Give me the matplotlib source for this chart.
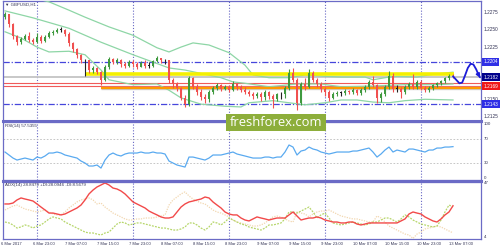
import matplotlib
matplotlib.use("Agg")
import matplotlib.pyplot as plt
import matplotlib.transforms as mtransforms
from matplotlib.lines import Line2D
from matplotlib.patches import Rectangle

# ---------------- data ----------------
symbol_label = "\u25BC GBPUSD,H1"
rsi_label = "RSI(14) 57.5355"
adx_label = "ADX(14) 28.8479 +DI:28.0946 -DI:8.5679"

time_labels = ["6 Mar 2017", "6 Mar 23:00", "7 Mar 07:00", "7 Mar 15:00", "7 Mar 23:00",
               "8 Mar 07:00", "8 Mar 15:00", "8 Mar 23:00", "9 Mar 07:00", "9 Mar 15:00",
               "9 Mar 23:00", "10 Mar 07:00", "10 Mar 15:00", "10 Mar 23:00", "13 Mar 07:00"]
time_label_bars = [0, 8, 16, 24, 32, 40, 48, 56, 64, 72, 80, 88, 96, 104, 112]
day_grid_bars = [8, 32, 56, 80, 104]

first_open = 1.2268
closes = [1.2272, 1.2258, 1.2241, 1.2232, 1.2237, 1.2241, 1.2235, 1.2233, 1.2240, 1.2234,
          1.2240, 1.2245, 1.2247, 1.2250, 1.2250, 1.2244, 1.2231, 1.2222, 1.2213, 1.2206,
          1.2206, 1.2192, 1.2195, 1.2189, 1.2178, 1.2196, 1.2208, 1.2203, 1.2207, 1.2201,
          1.2198, 1.2204, 1.2200, 1.2197, 1.2202, 1.2198, 1.2198, 1.2205, 1.2209, 1.2206,
          1.2206, 1.2178, 1.2172, 1.2166, 1.2152, 1.2143, 1.2180, 1.2168, 1.2160, 1.2153,
          1.2150, 1.2160, 1.2166, 1.2170, 1.2165, 1.2168, 1.2164, 1.2172, 1.2167, 1.2164,
          1.2160, 1.2157, 1.2154, 1.2158, 1.2153, 1.2160, 1.2154, 1.2150, 1.2157, 1.2157,
          1.2166, 1.2188, 1.2178, 1.2145, 1.2172, 1.2168, 1.2188, 1.2178, 1.2172, 1.2165,
          1.2160, 1.2152, 1.2157, 1.2159, 1.2159, 1.2162, 1.2160, 1.2163, 1.2159, 1.2163,
          1.2168, 1.2175, 1.2170, 1.2152, 1.2157, 1.2168, 1.2183, 1.2165, 1.2165, 1.2160,
          1.2168, 1.2172, 1.2168, 1.2175, 1.2166, 1.2163, 1.2166, 1.2170, 1.2173, 1.2176,
          1.2180, 1.2184, 1.2183]
highs = [1.2276, 1.2273, 1.2259, 1.2243, 1.2239, 1.2244, 1.2246, 1.2238, 1.2245, 1.2243,
         1.2242, 1.2248, 1.2250, 1.2253, 1.2254, 1.2251, 1.2246, 1.2233, 1.2224, 1.2215,
         1.2208, 1.2204, 1.2198, 1.2197, 1.2191, 1.2199, 1.2211, 1.2210, 1.2210, 1.2208,
         1.2204, 1.2207, 1.2206, 1.2203, 1.2205, 1.2206, 1.2203, 1.2207, 1.2212, 1.2210,
         1.2208, 1.2207, 1.2180, 1.2175, 1.2168, 1.2156, 1.2183, 1.2182, 1.2172, 1.2165,
         1.2158, 1.2163, 1.2169, 1.2173, 1.2172, 1.2171, 1.2170, 1.2176, 1.2174, 1.2170,
         1.2167, 1.2163, 1.2160, 1.2160, 1.2160, 1.2163, 1.2162, 1.2158, 1.2159, 1.2160,
         1.2169, 1.2193, 1.2195, 1.2181, 1.2175, 1.2181, 1.2193, 1.2190, 1.2181, 1.2175,
         1.2168, 1.2163, 1.2160, 1.2162, 1.2162, 1.2165, 1.2164, 1.2166, 1.2165, 1.2166,
         1.2170, 1.2178, 1.2183, 1.2172, 1.2160, 1.2171, 1.2190, 1.2188, 1.2170, 1.2168,
         1.2171, 1.2175, 1.2186, 1.2178, 1.2177, 1.2169, 1.2169, 1.2172, 1.2175, 1.2178,
         1.2182, 1.2187, 1.2186]
lows = [1.2266, 1.2254, 1.2236, 1.2228, 1.2229, 1.2235, 1.2232, 1.2230, 1.2231, 1.2231,
        1.2232, 1.2238, 1.2243, 1.2245, 1.2246, 1.2241, 1.2226, 1.2218, 1.2210, 1.2202,
        1.2184, 1.2188, 1.2188, 1.2186, 1.2171, 1.2176, 1.2194, 1.2200, 1.2201, 1.2197,
        1.2195, 1.2197, 1.2196, 1.2194, 1.2196, 1.2195, 1.2195, 1.2197, 1.2203, 1.2202,
        1.2200, 1.2173, 1.2166, 1.2162, 1.2149, 1.2139, 1.2141, 1.2165, 1.2156, 1.2149,
        1.2145, 1.2146, 1.2157, 1.2163, 1.2162, 1.2163, 1.2161, 1.2162, 1.2164, 1.2161,
        1.2157, 1.2154, 1.2150, 1.2152, 1.2148, 1.2149, 1.2151, 1.2137, 1.2148, 1.2151,
        1.2152, 1.2164, 1.2175, 1.2135, 1.2142, 1.2164, 1.2166, 1.2175, 1.2168, 1.2161,
        1.2155, 1.2148, 1.2150, 1.2154, 1.2155, 1.2156, 1.2157, 1.2157, 1.2156, 1.2156,
        1.2160, 1.2165, 1.2168, 1.2145, 1.2146, 1.2154, 1.2165, 1.2160, 1.2161, 1.2152,
        1.2158, 1.2165, 1.2165, 1.2165, 1.2163, 1.2160, 1.2161, 1.2163, 1.2167, 1.2170,
        1.2173, 1.2177, 1.2181]

bb_upper_bars = [0, 6, 11, 16, 20, 26, 32, 38, 41, 44, 47, 51, 56, 60, 62, 66, 71, 75, 80,
                 84, 90, 92, 96, 98, 103, 106, 112]
bb_upper = [1.2304, 1.2297, 1.2290, 1.2278, 1.2268, 1.2254, 1.2242, 1.2224, 1.2218, 1.2225,
            1.2231, 1.2228, 1.2217, 1.2199, 1.2185, 1.2181, 1.2181, 1.2185, 1.2183, 1.2182,
            1.2182, 1.2178, 1.2182, 1.2183, 1.2182, 1.2185, 1.2189]
bb_mid_bars = [0, 7, 16, 24, 32, 41, 45, 54, 57, 60, 66, 73, 79, 84, 92, 100, 108, 112]
bb_mid = [1.2277, 1.2267, 1.2252, 1.2232, 1.2214, 1.2195, 1.2192, 1.2181, 1.2175, 1.2173,
          1.2168, 1.2172, 1.2172, 1.2168, 1.2169, 1.2171, 1.2171, 1.2172]
bb_lower_bars = [0, 4, 8, 11, 16, 20, 24, 26, 32, 38, 41, 44, 49, 55, 59, 61, 67, 71, 75,
                 80, 84, 88, 92, 96, 100, 105, 112]
bb_lower = [1.2247, 1.2238, 1.2225, 1.2218, 1.2219, 1.2214, 1.2192, 1.2178, 1.2171, 1.2172,
            1.2163, 1.2152, 1.2143, 1.2140, 1.2139, 1.2145, 1.2148, 1.2145, 1.2142, 1.2145,
            1.2149, 1.2149, 1.2146, 1.2145, 1.2148, 1.2150, 1.2149]

rsi = [48.3, 43.2, 38.0, 34.6, 36.3, 38.0, 36.3, 34.6, 39.7, 38.0,
       41.5, 46.6, 46.6, 48.3, 46.6, 43.2, 41.5, 39.7, 38.0, 32.9,
       29.5, 24.4, 24.4, 26.1, 20.9, 34.6, 43.2, 46.6, 43.2, 41.5,
       44.9, 46.6, 46.6, 46.6, 48.3, 46.6, 46.6, 48.3, 46.6, 46.6,
       44.9, 32.9, 29.5, 26.1, 24.4, 22.6, 39.7, 39.7, 38.0, 36.3,
       34.6, 38.0, 43.2, 43.2, 43.2, 44.9, 46.6, 48.3, 44.9, 43.2,
       41.5, 39.7, 38.0, 38.0, 38.0, 39.7, 39.7, 38.0, 39.7, 39.7,
       48.3, 60.3, 56.8, 43.2, 50.0, 51.7, 56.8, 53.4, 51.7, 48.3,
       46.6, 44.9, 46.6, 48.3, 48.3, 48.3, 48.3, 50.0, 50.0, 51.7,
       53.4, 55.1, 48.3, 39.7, 44.9, 51.7, 56.8, 48.3, 51.7, 50.0,
       48.3, 53.4, 53.4, 51.7, 50.0, 48.3, 51.7, 51.7, 55.1, 55.1,
       56.8, 56.8, 57.5]
rsi_levels = [70, 30]

adx = [30.2, 30.2, 30.9, 33.2, 34.7, 33.9, 33.2, 32.4, 30.2, 27.9,
       25.7, 23.4, 23.4, 22.7, 22.0, 22.7, 24.2, 25.7, 27.2, 29.4,
       33.2, 37.7, 40.6, 42.9, 44.4, 45.9, 44.4, 42.1, 41.4, 39.9,
       37.7, 34.7, 31.7, 30.2, 28.7, 27.2, 24.9, 23.4, 22.0, 20.5,
       19.7, 19.7, 20.5, 24.2, 27.9, 30.2, 31.7, 32.4, 33.2, 33.9,
       35.4, 34.7, 31.7, 29.4, 27.2, 24.2, 22.7, 22.0, 22.0, 19.7,
       18.2, 17.5, 19.0, 20.5, 19.7, 19.0, 18.2, 19.0, 19.7, 19.7,
       19.7, 22.0, 24.2, 21.2, 18.2, 19.0, 19.7, 19.7, 20.5, 19.7,
       18.2, 17.5, 16.7, 16.7, 16.0, 16.0, 16.7, 16.7, 15.2, 14.5,
       15.2, 16.0, 16.0, 16.0, 16.0, 16.0, 16.0, 16.0, 16.0, 17.5,
       19.0, 22.7, 24.2, 23.4, 22.7, 20.5, 19.0, 17.5, 16.7, 19.0,
       22.0, 24.2, 28.85]
plus_di = [16.7, 16.0, 14.5, 12.2, 13.0, 14.5, 13.7, 12.2, 13.7, 14.5,
           16.7, 19.0, 20.5, 19.7, 19.0, 16.7, 15.2, 13.7, 12.2, 10.7,
           9.2, 8.5, 8.5, 7.7, 7.0, 8.5, 9.2, 12.2, 15.2, 16.7,
           16.0, 14.5, 15.2, 16.0, 16.0, 15.2, 14.5, 13.7, 13.0, 12.2,
           12.2, 11.5, 10.7, 10.7, 11.5, 13.0, 16.0, 16.0, 14.5, 12.2,
           10.7, 13.0, 16.7, 16.0, 14.5, 16.7, 19.7, 18.2, 16.7, 15.2,
           14.5, 13.0, 12.2, 11.5, 10.7, 12.2, 14.5, 14.5, 15.2, 16.0,
           19.0, 24.2, 24.2, 23.4, 24.9, 26.4, 27.9, 24.2, 19.7, 22.0,
           23.4, 19.7, 16.0, 15.2, 14.5, 15.2, 16.0, 16.7, 16.0, 15.2,
           14.5, 15.2, 16.7, 16.7, 18.2, 19.7, 19.7, 18.2, 16.7, 19.0,
           22.0, 20.5, 18.2, 16.7, 15.2, 14.5, 13.7, 13.0, 13.7, 18.2,
           24.2, 29.4, 28.09]
minus_di = [25.7, 27.2, 28.7, 29.4, 27.9, 26.4, 25.7, 24.9, 24.2, 24.9,
            25.7, 24.2, 22.7, 22.0, 22.0, 24.2, 27.2, 29.4, 31.7, 33.2,
            33.9, 34.7, 33.2, 30.2, 30.9, 27.9, 25.7, 23.4, 22.0, 20.5,
            19.0, 18.2, 18.2, 19.0, 19.0, 19.7, 19.7, 19.7, 20.5, 21.2,
            22.0, 29.4, 33.2, 35.4, 37.7, 39.2, 36.2, 33.9, 32.4, 30.9,
            30.2, 27.9, 25.7, 24.2, 23.4, 22.0, 20.5, 18.2, 16.7, 16.0,
            15.2, 14.5, 13.7, 13.7, 14.5, 16.0, 18.2, 20.5, 21.2, 20.5,
            19.0, 17.5, 16.7, 24.2, 23.4, 22.7, 20.5, 22.7, 24.2, 24.9,
            24.9, 25.7, 24.2, 22.7, 21.2, 20.5, 19.7, 19.0, 19.0, 18.2,
            17.5, 16.7, 16.7, 21.2, 19.7, 16.7, 13.7, 12.2, 10.7, 9.2,
            7.7, 7.0, 4.4, 7.7, 9.2, 11.5, 12.2, 13.0, 13.7, 13.0,
            11.5, 10.0, 8.57]

# horizontal levels (price)
level_bid = 1.2182
level_yellow = 1.21858
level_red_upper = 1.2173
level_red = 1.2169
level_orange = 1.21668
level_dash_top = 1.2204
level_dash_bottom = 1.2143
yellow_start_bar = 20
orange_start_bar = 24

price_ticks = [1.2275, 1.2250, 1.2225, 1.2150, 1.2125]
boxed_prices = [1.2204, 1.2182, 1.2169, 1.2143]
boxed_colors = ["#2f2fe6", "#00008b", "#f01818", "#2f2fe6"]

forecast_bars = [112.0, 112.8, 113.6, 114.3, 115.0, 115.7, 116.4, 117.1, 117.8, 118.4, 118.8]
forecast_prices = [1.2183, 1.2178, 1.2173, 1.2174, 1.2184, 1.2195, 1.2201, 1.2200, 1.2193, 1.2185, 1.2181]

watermark = "freshforex.com"

# ---------------- layout helpers (pixels -> figure fraction) ----------------
W, H = 500, 250
def fx(px):
    return px / W
def fy(py):
    return 1 - py / H

L, R = 3, 481
XMIN, XMAX = -0.5, 119.0
border = "#6b6bc6"
grid_c = "#6666c4"
txt_c = "#333355"
FONT = "Liberation Sans"
small = 3.2

fig = plt.figure(figsize=(5, 2.5), dpi=100)
fig.patch.set_facecolor("white")

ax_main = fig.add_axes([fx(L), fy(121), fx(R - L), (121 - 1) / H])
ax_rsi = fig.add_axes([fx(L), fy(180.3), fx(R - L), (180.3 - 121.75) / H])
ax_adx = fig.add_axes([fx(L), fy(239), fx(R - L), (239 - 181.5) / H])

for ax in (ax_main, ax_rsi, ax_adx):
    ax.set_xlim(XMIN, XMAX)
    ax.set_xticks([])
    ax.set_yticks([])
    ax.set_facecolor("white")
    for s in ax.spines.values():
        s.set_color(border)
        s.set_linewidth(0.9)
    for b in day_grid_bars:
        ax.axvline(b, color=grid_c, ls=(0, (1, 1.6)), lw=0.8, zorder=1)

ax_main.set_ylim(1.21188, 1.22912)
ax_rsi.set_ylim(0, 100)
ax_adx.set_ylim(4, 47)

# ---------------- main panel ----------------
am = ax_main
am.axhline(level_dash_top, color="#4646dc", lw=0.9, ls=(0, (5, 1.5, 1, 1.5)), zorder=2)
am.axhline(level_dash_bottom, color="#4646dc", lw=0.9, ls=(0, (5, 1.5, 1, 1.5)), zorder=2)
am.axhline(level_bid, color="#c4c4c4", lw=1.3, zorder=2)
am.axhline(level_red_upper, color="#f05a5a", lw=0.8, zorder=2)
am.axhline(level_red, color="#f05a5a", lw=0.8, zorder=2)
am.hlines(level_yellow, yellow_start_bar, 112.3, color="#f4f000", lw=2.6, zorder=3)
am.hlines(level_orange - 0.00003, orange_start_bar, XMAX, color="#cccccc", lw=2.4, zorder=2.5)
am.hlines(level_orange, orange_start_bar, XMAX, color="#ff9a00", lw=1.6, zorder=3)

# bollinger bands
bb_c = "#8ed6a6"
am.plot(bb_upper_bars, bb_upper, color=bb_c, lw=0.9, zorder=2.8)
am.plot(bb_mid_bars, bb_mid, color=bb_c, lw=0.9, zorder=2.8)
am.plot(bb_lower_bars, bb_lower, color=bb_c, lw=0.9, zorder=2.8)

# candles
n = len(closes)
opens = [first_open] + closes[:-1]
xs = list(range(n))
cols = []
for o, c in zip(opens, closes):
    if c > o + 1e-7:
        cols.append("#3f9a3f")
    elif c < o - 1e-7:
        cols.append("#f05050")
    else:
        cols.append("#222222")
am.vlines(xs, lows, highs, colors=cols, lw=0.8, zorder=4)
bottoms = [min(o, c) for o, c in zip(opens, closes)]
heights = [max(abs(c - o), 0.00008) for o, c in zip(opens, closes)]
am.bar(xs, heights, bottom=bottoms, width=0.45, color=cols, linewidth=0, zorder=4.1)

# forecast curve with arrow
am.plot(forecast_bars[:-1], forecast_prices[:-1], color="#1c1cd8", lw=1.3, zorder=6,
        solid_capstyle="round", clip_on=False)
am.annotate("", xy=(forecast_bars[-1], forecast_prices[-1]),
            xytext=(forecast_bars[-2], forecast_prices[-2]),
            arrowprops=dict(arrowstyle="-|>", color="#1c1cd8", lw=1.3, mutation_scale=5),
            zorder=6, annotation_clip=False)

# price axis labels
tr_main = mtransforms.blended_transform_factory(am.transAxes, am.transData)
for p in price_ticks:
    am.text(1.006, p, f"{p:.4f}", transform=tr_main, fontsize=small + 0.2, color=txt_c,
            va="center", ha="left", family=FONT)
for p, c in zip(boxed_prices, boxed_colors):
    am.text(1.005, p, f"{p:.4f}", transform=tr_main, fontsize=small + 0.2, color="white",
            va="center", ha="left", family=FONT,
            bbox=dict(boxstyle="square,pad=0.3", fc=c, ec="none"), clip_on=False)

fig.text(fx(5), fy(5), symbol_label, fontsize=small, color=txt_c, va="center", ha="left",
         family=[FONT, "DejaVu Sans"])

# ---------------- RSI ----------------
ar = ax_rsi
for lv in rsi_levels:
    ar.axhline(lv, color="#bdbdbd", lw=0.6, ls=(0, (2, 2)), zorder=1)
ar.plot(xs, rsi, color="#5aaaf0", lw=0.9, zorder=3)
fig.text(fx(5), fy(125.5), rsi_label, fontsize=small, color=txt_c, va="center", ha="left",
         family=FONT)
tr_rsi = mtransforms.blended_transform_factory(ar.transAxes, ar.transData)
ar.text(1.006, 100, "100", transform=tr_rsi, fontsize=small, color=txt_c, va="top", ha="left", family=FONT)
ar.text(1.006, 70, "70", transform=tr_rsi, fontsize=small, color=txt_c, va="center", ha="left", family=FONT)
ar.text(1.006, 30, "30", transform=tr_rsi, fontsize=small, color=txt_c, va="center", ha="left", family=FONT)
ar.text(1.006, 0, "0", transform=tr_rsi, fontsize=small, color=txt_c, va="bottom", ha="left", family=FONT)

# ---------------- ADX ----------------
ad = ax_adx
ad.plot(xs, minus_di, color="#f2d7b0", lw=0.9, ls=(0, (1, 1)), zorder=2)
ad.plot(xs, plus_di, color="#b6d66a", lw=0.9, ls=(0, (1.5, 1)), zorder=2.5)
ad.plot(xs, adx, color="#f24a4a", lw=1.0, zorder=3)
fig.text(fx(5), fy(185), adx_label, fontsize=small, color=txt_c, va="center", ha="left",
         family=FONT)
tr_adx = mtransforms.blended_transform_factory(ad.transAxes, ad.transData)
ad.text(1.006, 47, "47", transform=tr_adx, fontsize=small, color=txt_c, va="top", ha="left", family=FONT)
ad.text(1.006, 4, "4", transform=tr_adx, fontsize=small, color=txt_c, va="bottom", ha="left", family=FONT)

# time axis labels
tr_time = mtransforms.blended_transform_factory(ad.transData, fig.transFigure)
for b, lab in zip(time_label_bars, time_labels):
    ad.text(b - 1.0, fy(244), lab, transform=tr_time, fontsize=small - 0.2, color=txt_c,
            va="center", ha="left", clip_on=False, family=FONT)

# thick panel separators
for py in (121, 180.6):
    fig.add_artist(Line2D([fx(L), fx(R)], [fy(py), fy(py)], color=border, lw=2.2))

# watermark
fig.add_artist(Rectangle((fx(226), fy(131)), fx(100), 17 / H, transform=fig.transFigure,
                         facecolor="#8dae3b", edgecolor="none", zorder=20))
fig.text(fx(276), fy(122.5), watermark, fontsize=9.4, color="white", family="Open Sans",
         ha="center", va="center", zorder=21)

fig.savefig("out.png", dpi=100, facecolor="white")
